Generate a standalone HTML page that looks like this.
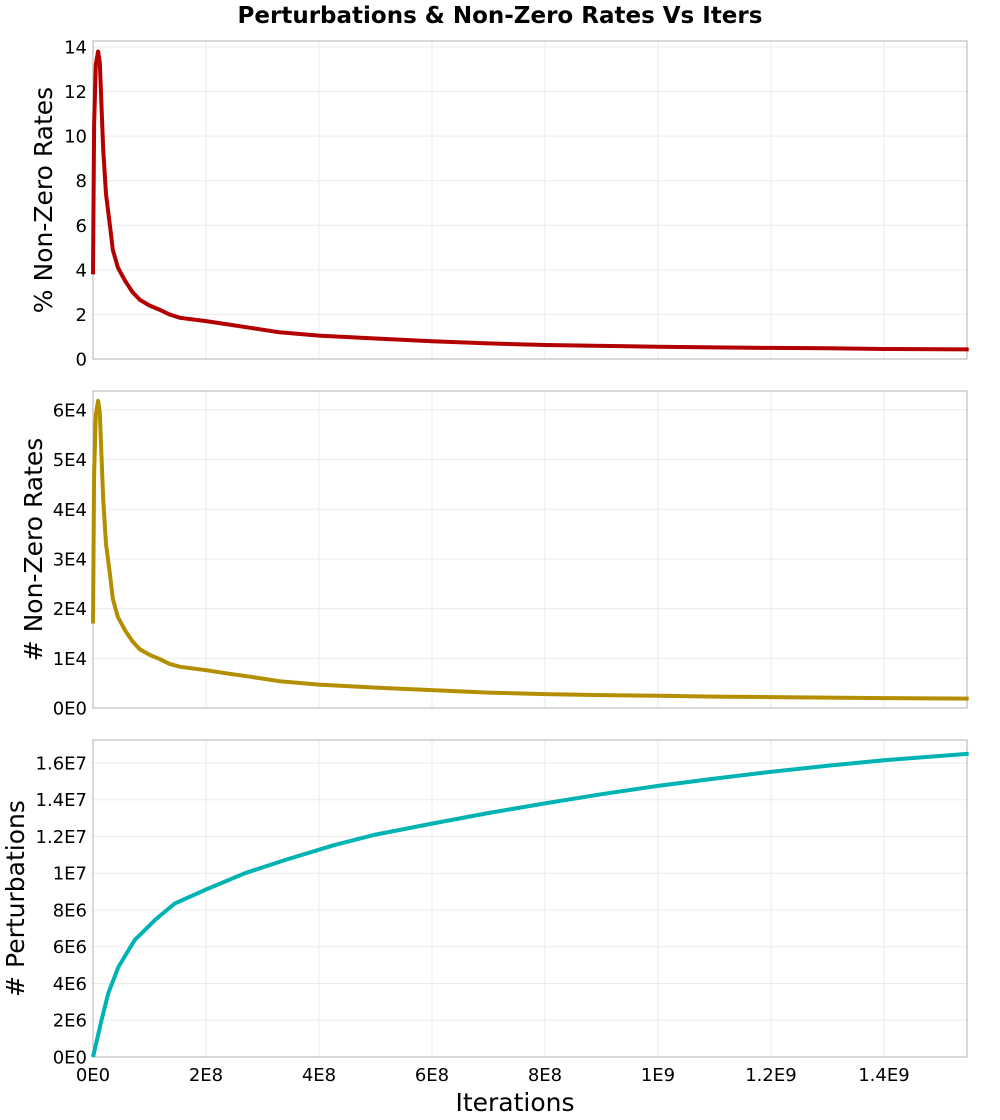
<!DOCTYPE html>
<html><head><meta charset="utf-8"><style>
body{margin:0;background:#fff;}
svg{display:block;font-family:"DejaVu Sans","Liberation Sans",sans-serif;}
</style></head><body>
<svg id="chart" width="1000" height="1120">
<text x="500" y="23" text-anchor="middle" font-size="23" font-weight="bold">Perturbations &amp; Non-Zero Rates Vs Iters</text>
</svg>
<script>
// x in units of 1E8 iterations
const xPct = [0,0.02,0.05,0.09,0.12,0.18,0.23,0.3,0.35,0.44,0.57,0.7,0.83,1.0,1.19,1.35,1.54,2.0,2.4,2.78,3.3,4.0,5.0,6.0,7.0,8.0,9.0,10.0,11.0,12.0,13.0,14.0,15.5];
const pctValues = [3.8,10.5,13.2,13.8,13.3,9.4,7.4,6.0,4.9,4.1,3.5,3.0,2.65,2.4,2.2,2.0,1.85,1.7,1.55,1.4,1.2,1.05,0.92,0.8,0.7,0.63,0.59,0.55,0.52,0.5,0.48,0.45,0.43];
const cntValues = [1.7,4.7,5.9,6.18,5.95,4.2,3.3,2.7,2.2,1.83,1.56,1.34,1.18,1.07,0.98,0.89,0.83,0.76,0.69,0.63,0.54,0.47,0.41,0.36,0.31,0.28,0.26,0.245,0.23,0.22,0.21,0.2,0.19];
const xPert = [0,0.15,0.27,0.45,0.74,1.10,1.45,1.98,2.69,3.40,4.28,5.0,6.0,7.0,8.0,9.0,10.0,11.0,12.0,13.0,14.0,15.5];
const pertValues = [0,2.0,3.47,4.9,6.37,7.46,8.36,9.09,10.0,10.72,11.54,12.1,12.7,13.28,13.8,14.3,14.75,15.15,15.52,15.85,16.15,16.5];
const xTickVals = [0,2,4,6,8,10,12,14];
const xTickLabels = ["0E0","2E8","4E8","6E8","8E8","1E9","1.2E9","1.4E9"];
const pctTicks = [0,2,4,6,8,10,12,14];
const pctTickLabels = ["0","2","4","6","8","10","12","14"];
const cntTicks = [0,1,2,3,4,5,6];
const cntTickLabels = ["0E0","1E4","2E4","3E4","4E4","5E4","6E4"];
const pertTicks = [0,2,4,6,8,10,12,14,16];
const pertTickLabels = ["0E0","2E6","4E6","6E6","8E6","1E7","1.2E7","1.4E7","1.6E7"];

const NS="http://www.w3.org/2000/svg";
const svg=document.getElementById('chart');
const L=93,R=967,XMAX=15.47;
const sx=v=>L+v/XMAX*(R-L);
function mk(tag,attrs,parent){const e=document.createElementNS(NS,tag);for(const k in attrs)e.setAttribute(k,attrs[k]);(parent||svg).appendChild(e);return e;}

function panel(name,top,bot,ymax,ticks,labels,xs,ys,color,ylabel,ylabelX,showX){
  const g=mk('g',{});
  
  
  const sy=v=>bot-v/ymax*(bot-top);
  xTickVals.forEach(v=>{const l=mk('line',{x1:sx(v),x2:sx(v),y1:top,y2:bot,stroke:'#ebebeb','stroke-width':1},g);
    });
  ticks.forEach((v,i)=>{const l=mk('line',{x1:L,x2:R,y1:sy(v),y2:sy(v),stroke:'#ebebeb','stroke-width':1},g);
    
    const t=mk('text',{x:L-6,y:sy(v)+6.5,'text-anchor':'end','font-size':18},g);t.textContent=labels[i];
    });
  const f=mk('rect',{x:L,y:top,width:R-L,height:bot-top,fill:'none',stroke:'#b0b0b0','stroke-width':1},g);
  
  const pts=xs.map((x,i)=>sx(x).toFixed(1)+','+sy(ys[i]).toFixed(1)).join(' ');
  const p=mk('polyline',{points:pts,fill:'none',stroke:color,'stroke-width':4,'stroke-linejoin':'round'},g);
  
  const yl=mk('text',{x:ylabelX,y:(top+bot)/2,'text-anchor':'middle','font-size':25,transform:`rotate(-90 ${ylabelX} ${(top+bot)/2})`},g);
  yl.textContent=ylabel;
  if(showX){
    xTickVals.forEach((v,i)=>{const t=mk('text',{x:sx(v),y:bot+24,'text-anchor':'middle','font-size':18},g);t.textContent=xTickLabels[i];
      });
    const xl=mk('text',{x:(L+R)/2-15,y:1111,'text-anchor':'middle','font-size':25},g);xl.textContent='Iterations';
    
  }
}
panel('pct-nonzero',41,359,14.27,pctTicks,pctTickLabels,xPct,pctValues,'#b30000','% Non-Zero Rates',52,false);
panel('count-nonzero',391,708,6.38,cntTicks,cntTickLabels,xPct,cntValues,'#b38f00','# Non-Zero Rates',42,false);
panel('perturbations',740,1057,17.25,pertTicks,pertTickLabels,xPert,pertValues,'#00b3b3','# Perturbations',24,true);
</script>
</body></html>
